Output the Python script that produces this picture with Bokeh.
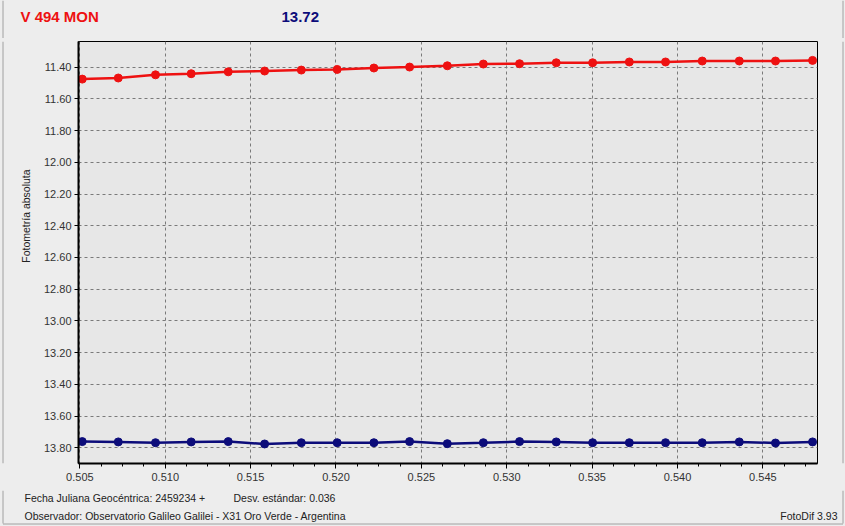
from bokeh.plotting import figure
from bokeh.layouts import column, row
from bokeh.models import Range1d, FixedTicker, PrintfTickFormatter, InlineStyleSheet
from bokeh.core.properties import value
from bokeh.embed import file_html
from bokeh.resources import INLINE
import numpy as np

# ---- data ----
jd_frac = [0.50514, 0.50725, 0.50943, 0.51152, 0.51369, 0.51582, 0.51797,
           0.52007, 0.52222, 0.52431, 0.52652, 0.52863, 0.53075, 0.53290,
           0.53503, 0.53718, 0.53930, 0.54145, 0.54362, 0.54574, 0.54791]
var_mag = [11.476, 11.469, 11.449, 11.442, 11.430, 11.425, 11.419,
           11.415, 11.406, 11.400, 11.392, 11.381, 11.379, 11.373,
           11.373, 11.368, 11.368, 11.362, 11.362, 11.362, 11.358]
cmp_mag = [13.760, 13.762, 13.767, 13.762, 13.760, 13.775, 13.767,
           13.767, 13.767, 13.760, 13.773, 13.767, 13.760, 13.762,
           13.767, 13.767, 13.767, 13.767, 13.762, 13.769, 13.762]
x_ticks = [0.505, 0.510, 0.515, 0.520, 0.525, 0.530, 0.535, 0.540, 0.545]
y_ticks = [11.40, 11.60, 11.80, 12.00, 12.20, 12.40, 12.60, 12.80,
           13.00, 13.20, 13.40, 13.60, 13.80]
star_name = "V 494 MON"
cmp_value = "13.72"
y_label = "Fotometría absoluta"
footer_jd = "Fecha Juliana Geocéntrica: 2459234 +"
footer_sd = "Desv. estándar: 0.036"
footer_obs = "Observador: Observatorio Galileo Galilei - X31 Oro Verde - Argentina"
footer_sw = "FotoDif 3.93"

RED = "#EE1111"
NAVY = "#0C0C7A"
TXT = "#222222"
BG = "#EDEDED"
EDGE = "#A0A0A0"
FONT = "Liberation Sans"

W, H = 845, 526
HEAD_H = 38             # header strip height
FOOT_H = 36             # footer strip height
MID_H = H - HEAD_H - FOOT_H
YL_W = 40               # strip holding the y-axis title
RS_W = 10               # right edge strip
FL, FR, FT, FB = 78, 817, 41, 463   # frame edges (page px)
X0, X1 = 0.50492, 0.54820
YB, YT = 13.898, 11.239

bgstyle = {"background-color": BG}
bgsheet = InlineStyleSheet(css=":host { background-color: #EDEDED; }")


def strip(w, h):
    f = figure(width=w, height=h, output_backend="svg", toolbar_location=None,
               x_range=Range1d(0, w), y_range=Range1d(h, 0),
               x_axis_location=None, y_axis_location=None,
               min_border=0, min_border_left=0, min_border_right=0,
               min_border_top=0, min_border_bottom=0,
               styles=bgstyle, stylesheets=[bgsheet])
    f.grid.visible = False
    f.outline_line_color = None
    f.background_fill_color = BG
    f.border_fill_color = BG
    return f


def txt(f, text, x, y, size, color=TXT, bold=False, align="left", angle=0.0):
    f.text(x=[x], y=[y], text=[text], text_font=value(FONT),
           text_font_size=value(size), text_color=color,
           text_font_style="bold" if bold else "normal",
           text_align=align, text_baseline="middle", angle=angle)


def vedge(f, x, h):
    f.segment(x0=[x], y0=[0], x1=[x], y1=[h], line_color=EDGE, line_width=1)


def hmask(f, y, w):
    f.segment(x0=[3], y0=[y], x1=[w - 3], y1=[y], line_color=BG, line_width=2)


# header
head = strip(W, HEAD_H)
hmask(head, HEAD_H - 0.5, W)
txt(head, star_name, 20, 16, "15px", RED, True)
txt(head, cmp_value, 281, 16, "15px", NAVY, True)
vedge(head, 2.5, HEAD_H)
vedge(head, 842.5, HEAD_H)

# y-axis title strip
ylab = strip(YL_W, MID_H)
hmask(ylab, 0.5, YL_W + 3)
hmask(ylab, MID_H - 0.5, YL_W + 3)
txt(ylab, y_label, 25, 225 - HEAD_H, "10.5px", angle=np.pi / 2, align="center")
vedge(ylab, 2.5, MID_H)

# right edge strip
rstrip = strip(RS_W, MID_H)
vedge(rstrip, 842.5 - (W - RS_W), MID_H)

# main chart
p = figure(width=W - YL_W - RS_W, height=MID_H, output_backend="svg",
           toolbar_location=None,
           x_range=Range1d(X0, X1), y_range=Range1d(YB, YT),
           min_border_left=FL - YL_W, min_border_right=(W - RS_W) - FR,
           min_border_top=FT - HEAD_H, min_border_bottom=(H - FOOT_H) - FB,
           styles=bgstyle, stylesheets=[bgsheet])
p.background_fill_color = "#E7E7E7"
p.border_fill_color = BG
p.outline_line_color = "black"
p.outline_line_width = 1

for g in (p.xgrid, p.ygrid):
    g.grid_line_color = "#7A7A7A"
    g.grid_line_dash = "3 3"
    g.grid_line_width = 1

minor = list(np.arange(0.505, 0.5485, 0.00125))
p.xaxis.ticker = FixedTicker(ticks=x_ticks, minor_ticks=minor)
p.yaxis.ticker = FixedTicker(ticks=y_ticks)
p.xaxis.formatter = PrintfTickFormatter(format="%.3f")
p.yaxis.formatter = PrintfTickFormatter(format="%.2f")
for ax in (p.xaxis, p.yaxis):
    ax.axis_line_color = "black"
    ax.axis_line_width = 2
    ax.major_tick_line_color = "black"
    ax.minor_tick_line_color = "black"
    ax.major_label_text_font = FONT
    ax.major_label_text_font_size = "11px"
    ax.major_label_text_color = "#333333"
p.xaxis.major_tick_out = 5
p.xaxis.major_tick_in = 0
p.xaxis.minor_tick_out = 3
p.xaxis.minor_tick_in = 0
p.xaxis.major_label_standoff = 4
p.yaxis.major_tick_out = 4
p.yaxis.major_tick_in = 0
p.yaxis.minor_tick_out = 0
p.yaxis.minor_tick_in = 0
p.yaxis.major_label_standoff = 3

p.line(jd_frac, var_mag, line_color=RED, line_width=2.5)
p.scatter(jd_frac, var_mag, size=8, fill_color=RED, line_color=RED)
p.line(jd_frac, cmp_mag, line_color=NAVY, line_width=2.5)
p.scatter(jd_frac, cmp_mag, size=8, fill_color=NAVY, line_color=NAVY)

# footer
foot = strip(W, FOOT_H)
hmask(foot, 0.5, W)
y0 = H - FOOT_H
txt(foot, footer_jd, 24, 497 - y0, "10.5px")
txt(foot, footer_sd, 233, 497 - y0, "10.5px")
txt(foot, footer_obs, 24, 515 - y0, "10.5px")
txt(foot, footer_sw, 837, 515 - y0, "10.5px", align="right")
vedge(foot, 2.5, 523 - y0)
vedge(foot, 842.5, 523 - y0)
foot.segment(x0=[2.5], y0=[523.5 - y0], x1=[842.5], y1=[523.5 - y0],
             line_color=EDGE, line_width=1)

layout = column(head, row(ylab, p, rstrip, spacing=0, styles=bgstyle, stylesheets=[bgsheet]),
                foot, spacing=0, styles=bgstyle, stylesheets=[bgsheet])

open("out.html", "w").write(file_html(layout, INLINE))
